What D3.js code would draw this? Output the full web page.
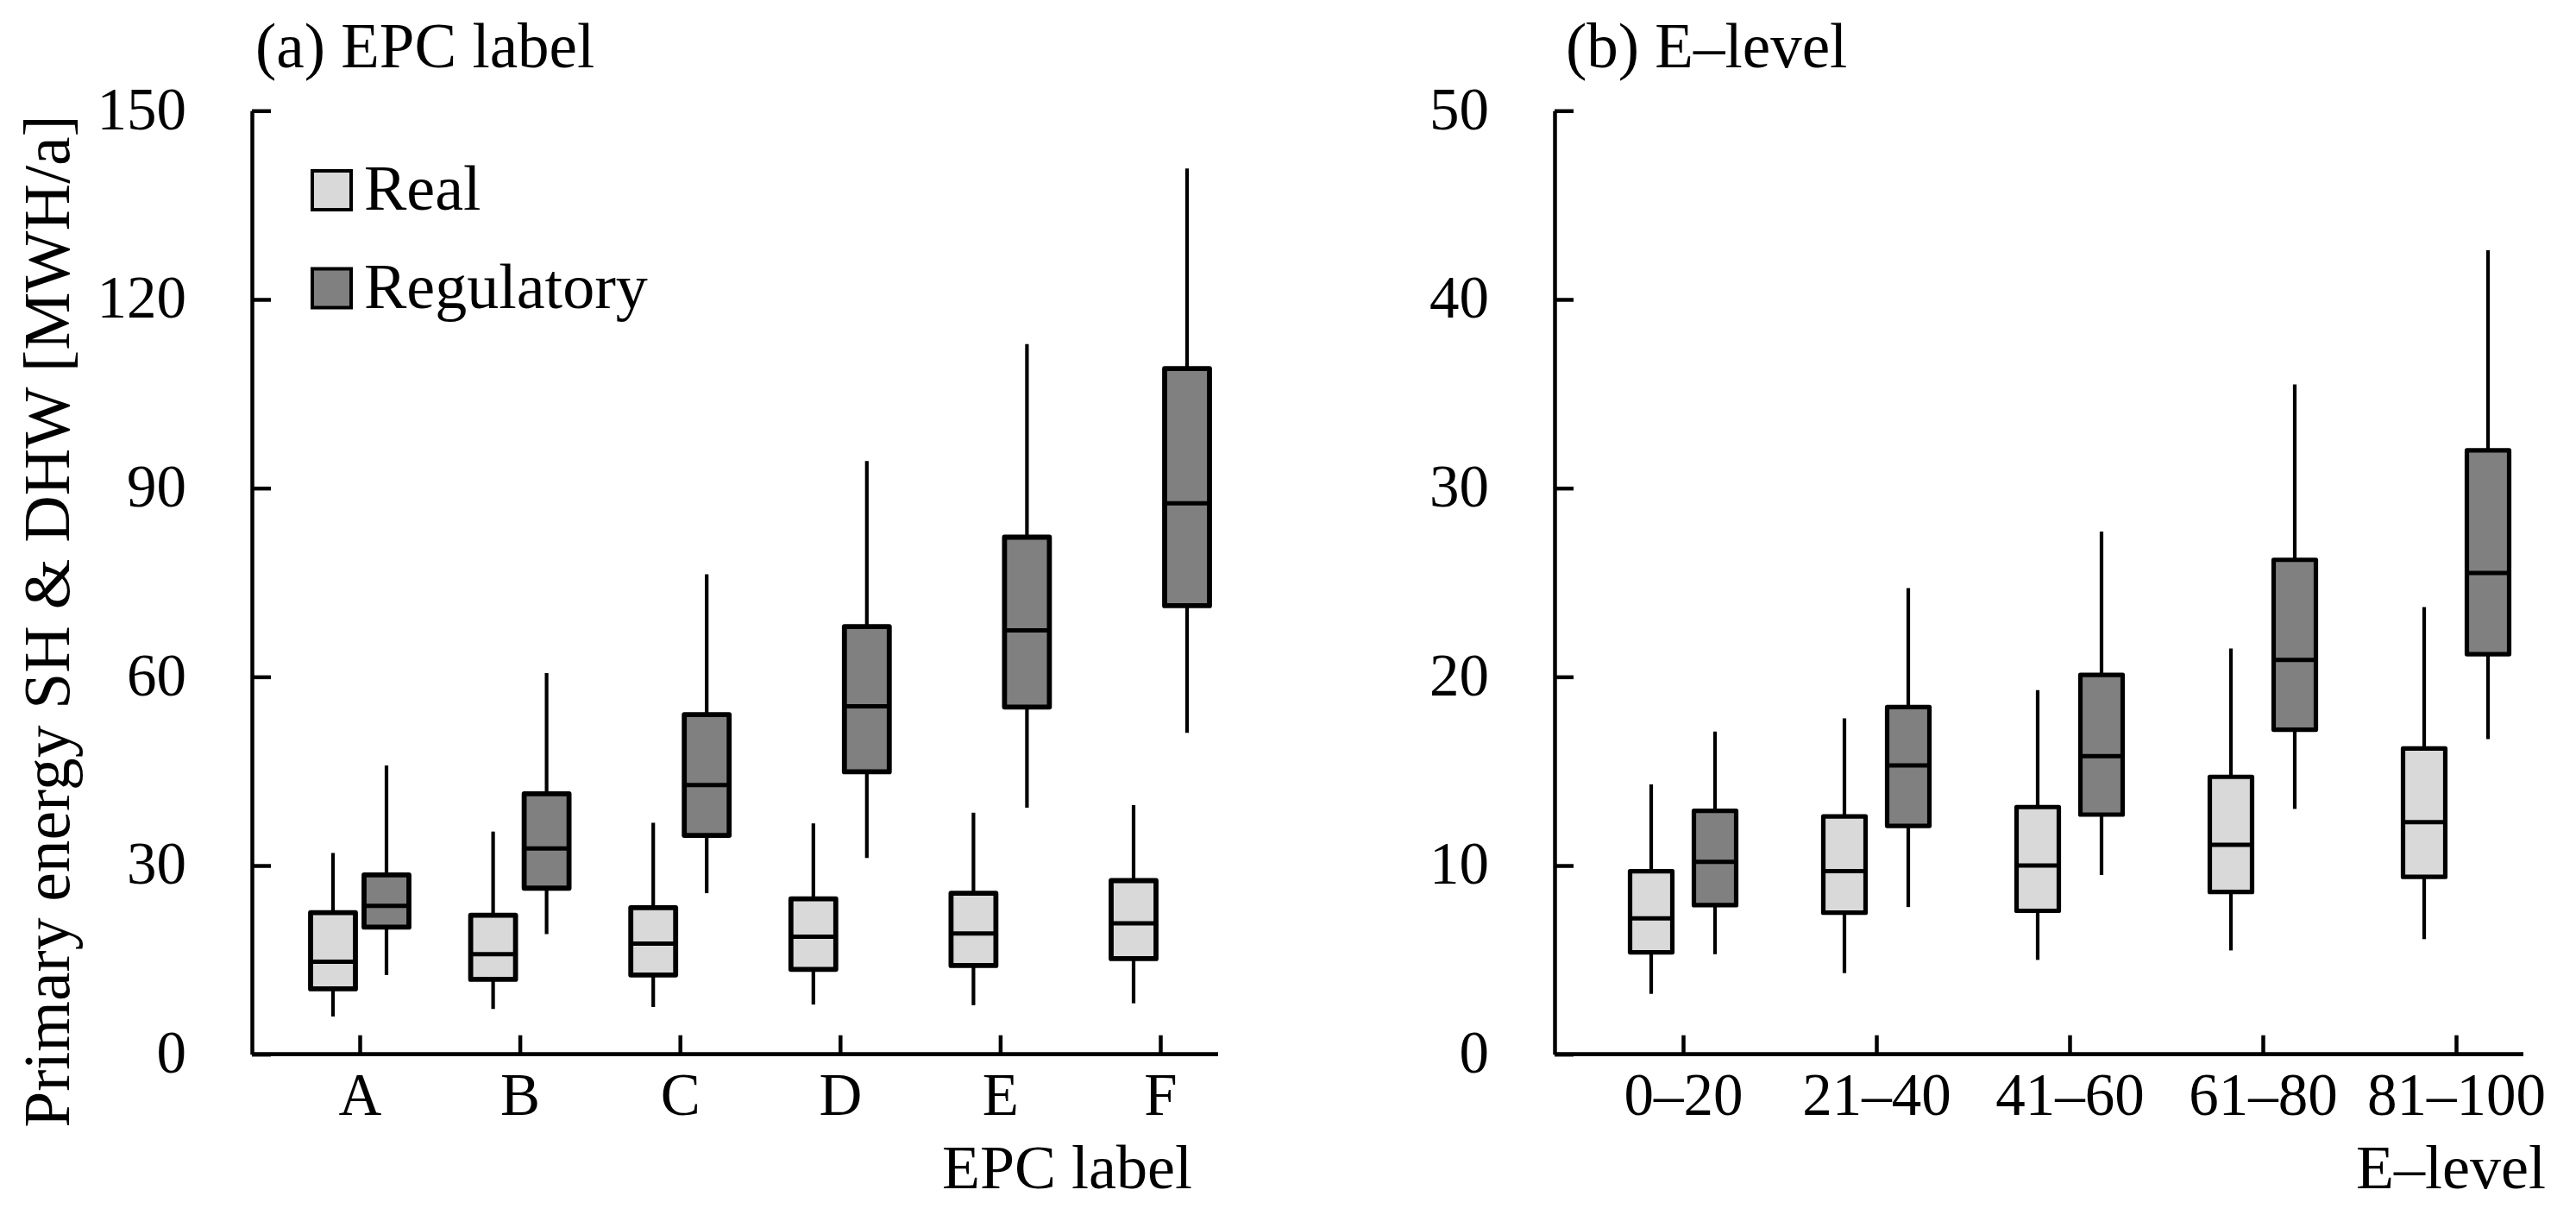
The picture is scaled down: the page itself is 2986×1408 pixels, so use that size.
<!DOCTYPE html>
<html><head><meta charset="utf-8">
<script src="https://cdn.jsdelivr.net/npm/d3@7"></script>
<style>
body{margin:0;background:#fff}
svg{display:block}
text{font-family:"Liberation Serif","DejaVu Serif",serif;fill:#000}
</style>
</head><body>
<svg id="c" width="2986" height="1408"></svg>
<script>
// ---------- data ----------
const seriesNames = ["Real", "Regulatory"];
const seriesColors = ["#d9d9d9", "#808080"];

const epcLabels = ["A", "B", "C", "D", "E", "F"];
// each entry: [whisker low, Q1, median, Q3, whisker high]
const epcReal = [
  [6.0, 10.4, 14.7, 22.5, 32.0],
  [7.2, 11.9, 15.9, 22.1, 35.4],
  [7.5, 12.6, 17.6, 23.3, 36.8],
  [7.9, 13.5, 18.7, 24.7, 36.7],
  [7.8, 14.1, 19.2, 25.6, 38.4],
  [8.1, 15.2, 20.8, 27.6, 39.6]
];
const epcReg = [
  [12.6, 20.2, 23.6, 28.5, 45.9],
  [19.1, 26.4, 32.7, 41.4, 60.6],
  [25.6, 34.8, 42.8, 54.0, 76.3],
  [31.2, 44.9, 55.3, 68.0, 94.3],
  [39.2, 55.2, 67.4, 82.2, 112.9],
  [51.1, 71.3, 87.6, 109.0, 140.8]
];
const epcTicks = [0, 30, 60, 90, 120, 150];

const eLabels = ["0–20", "21–40", "41–60", "61–80", "81–100"];
const eReal = [
  [3.2, 5.4, 7.2, 9.7, 14.3],
  [4.3, 7.5, 9.7, 12.6, 17.8],
  [5.0, 7.6, 10.0, 13.1, 19.3],
  [5.5, 8.6, 11.1, 14.7, 21.5],
  [6.1, 9.4, 12.3, 16.2, 23.7]
];
const eReg = [
  [5.3, 7.9, 10.2, 12.9, 17.1],
  [7.8, 12.1, 15.3, 18.4, 24.7],
  [9.5, 12.7, 15.8, 20.1, 27.7],
  [13.0, 17.2, 20.9, 26.2, 35.5],
  [16.7, 21.2, 25.5, 32.0, 42.6]
];
const eTicks = [0, 10, 20, 30, 40, 50];

// ---------- layout ----------
const svg = d3.select("#c");
const yTop = 128.3, yBottom = 1221.7;

const panels = [
  {
    title: "(a) EPC label", xTitle: "EPC label",
    cats: epcLabels, data: [epcReal, epcReg], ticks: epcTicks,
    axisX: 292, axisEnd: 1412, first: 417, last: 1345,
    sub: 31, boxW: 52, boxStroke: 5.8, titleX: 296, labelX: 216, xTitleX: 1382
  },
  {
    title: "(b) E–level", xTitle: "E–level",
    cats: eLabels, data: [eReal, eReg], ticks: eTicks,
    axisX: 1802, axisEnd: 2925, first: 1951, last: 2847,
    sub: 37, boxW: 49, boxStroke: 5.2, titleX: 1815, labelX: 1726, xTitleX: 2951
  }
];

panels.forEach(p => {
  const g = svg.append("g");
  const y = d3.scaleLinear()
    .domain([p.ticks[0], p.ticks[p.ticks.length - 1]])
    .range([yBottom, yTop]);
  const x = d3.scalePoint().domain(p.cats).range([p.first, p.last]);
  const xs = d3.scalePoint().domain(seriesNames).range([-p.sub, p.sub]);

  // y axis
  const ya = g.append("g")
    .attr("transform", `translate(${p.axisX},0)`)
    .call(d3.axisLeft(y).tickValues(p.ticks).tickSize(-22).tickSizeOuter(0)
      .tickPadding(p.axisX - p.labelX).tickFormat(d3.format("d")));
  ya.attr("font-family", null).attr("font-size", null);
  ya.selectAll("text").attr("font-size", 69).attr("dy", "0.30em");
  ya.selectAll("line,path").attr("stroke", "#000").attr("stroke-width", 4.5);

  // x axis (ticks + labels)
  const xa = g.append("g")
    .attr("transform", `translate(0,${yBottom})`)
    .call(d3.axisBottom(x).tickSize(-22).tickSizeOuter(0).tickPadding(21));
  xa.attr("font-family", null).attr("font-size", null);
  xa.select(".domain").remove();
  xa.selectAll("text").attr("font-size", 69);
  xa.selectAll("line").attr("stroke", "#000").attr("stroke-width", 4.5);
  // x axis baseline
  g.append("line")
    .attr("x1", p.axisX).attr("x2", p.axisEnd)
    .attr("y1", yBottom).attr("y2", yBottom)
    .attr("stroke", "#000").attr("stroke-width", 4.8);

  // boxes
  seriesNames.forEach((s, si) => {
    const arr = p.data[si];
    const grp = g.append("g");
    p.cats.forEach((c, ci) => {
      const [lo, q1, med, q3, hi] = arr[ci];
      const cx = x(c) + xs(s);
      grp.append("line").attr("x1", cx).attr("x2", cx)
        .attr("y1", y(q3)).attr("y2", y(hi))
        .attr("stroke", "#000").attr("stroke-width", 4.2);
      grp.append("line").attr("x1", cx).attr("x2", cx)
        .attr("y1", y(q1)).attr("y2", y(lo))
        .attr("stroke", "#000").attr("stroke-width", 4.2);
      grp.append("rect")
        .attr("x", cx - p.boxW / 2).attr("width", p.boxW)
        .attr("y", y(q3)).attr("height", y(q1) - y(q3))
        .attr("fill", seriesColors[si]).attr("stroke", "#000")
        .attr("stroke-width", p.boxStroke).attr("stroke-linejoin", "round");
      grp.append("line")
        .attr("x1", cx - p.boxW / 2).attr("x2", cx + p.boxW / 2)
        .attr("y1", y(med)).attr("y2", y(med))
        .attr("stroke", "#000").attr("stroke-width", 5);
    });
  });

  // titles
  g.append("text").attr("x", p.titleX).attr("y", 78)
    .attr("font-size", 73).text(p.title);
  g.append("text").attr("x", p.xTitleX).attr("y", 1377)
    .attr("text-anchor", "end").attr("font-size", 72).text(p.xTitle);
});

// y-axis label
svg.append("text")
  .attr("transform", "translate(80,720) rotate(-90)")
  .attr("text-anchor", "middle").attr("font-size", 75.5)
  .text("Primary energy SH & DHW [MWH/a]");

// legend
const legend = svg.append("g");
seriesNames.forEach((s, i) => {
  const ly = 198 + i * 113.5;
  legend.append("rect").attr("x", 362).attr("y", ly).attr("width", 45).attr("height", 45)
    .attr("fill", seriesColors[i]).attr("stroke", "#000").attr("stroke-width", 4);
  legend.append("text").attr("x", 422).attr("y", ly + 45)
    .attr("font-size", 74).text(s);
});
</script>
</body></html>
